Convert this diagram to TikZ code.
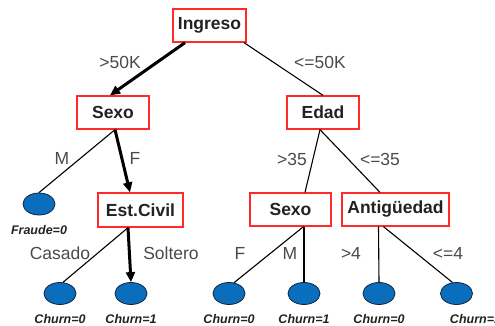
\documentclass[tikz,border=0pt]{standalone}
\usepackage{fontspec}
\setmainfont{Liberation Sans}
\usetikzlibrary{arrows.meta,shapes.geometric}
\definecolor{boxred}{HTML}{FF2A2A}
\definecolor{leafblue}{HTML}{0A6EBD}
\definecolor{leafedge}{HTML}{10243F}
\definecolor{txt}{HTML}{222222}
\definecolor{lbl}{HTML}{4A4A4A}
\tikzset{
  test/.style={draw=boxred, line width=1.3pt, fill=white, inner sep=0pt,
    text=txt, font=\fontsize{17.5}{20}\selectfont\bfseries},
  leaf/.style={ellipse, draw=leafedge, line width=0.8pt, fill=leafblue,
    minimum width=32pt, minimum height=22pt, inner sep=0pt},
  branch/.style={text=lbl, font=\fontsize{17.5}{20}\selectfont, inner sep=0pt},
  outcome/.style={text=txt, font=\fontsize{12.5}{14}\selectfont\bfseries\itshape, inner sep=0pt},
  edge/.style={draw=black, line width=1.1pt},
  chosen/.style={draw=black, line width=3pt, -{Triangle[length=10pt,width=9pt]}},
}
\begin{document}
\begin{tikzpicture}[x=1pt,y=-1pt]
\useasboundingbox (0,0) rectangle (495,326);
\clip (0,0) rectangle (495,326);

% decision nodes
\node[test, minimum width=73pt,  minimum height=33pt] (ingreso) at (209.5,25.5) {Ingreso};
\node[test, minimum width=72pt,  minimum height=33pt] (sexo)    at (113,112.5) {Sexo};
\node[test, minimum width=72pt,  minimum height=33pt] (edad)    at (323,112.5) {Edad};
\node[test, minimum width=85pt,  minimum height=34pt] (civil)   at (140.5,210) {Est.Civil};
\node[test, minimum width=81pt,  minimum height=33pt] (sexob)   at (290.5,209.5) {Sexo};
\node[test, minimum width=107pt, minimum height=33pt] (antig)   at (395.5,209.5) {Antigüedad};

% leaves
\node[leaf] (fraude) at (39,204) {};
\node[leaf] (la) at (60,293.5) {};
\node[leaf] (lb) at (131,293.5) {};
\node[leaf] (lc) at (229,293.5) {};
\node[leaf] (ld) at (304,293.5) {};
\node[leaf] (le) at (379,293.5) {};
\node[leaf] (lf) at (456.5,293.5) {};

% leaf outcomes
\node[outcome] (tfraude) at ([yshift=-15pt]fraude.south) {Fraude=0};
\node[outcome] (ta) at ([yshift=-14pt]la.south) {Churn=0};
\node[outcome] (tb) at ([yshift=-14pt]lb.south) {Churn=1};
\node[outcome] (tc) at ([yshift=-14pt]lc.south) {Churn=0};
\node[outcome] (td) at ([yshift=-14pt]ld.south) {Churn=1};
\node[outcome] (te) at ([yshift=-14pt]le.south) {Churn=0};
\node[outcome] (tf) at ([xshift=19pt,yshift=-14pt]lf.south) {Churn=1};

% branches
\draw[chosen] ([xshift=-24.5pt]ingreso.south) -- ([xshift=-3pt]sexo.north);
\draw[edge] ([xshift=34.5pt]ingreso.south) -- (edad.north);
\draw[edge] ([xshift=2pt]sexo.south) -- (fraude.north);
\draw[chosen] ([xshift=2pt]sexo.south) -- ([xshift=-10.5pt]civil.north);
\draw[edge] ([xshift=-12.5pt]civil.south) -- (la.75);
\draw[chosen] ([xshift=-12.5pt]civil.south) -- (lb.north);
\draw[edge] ([xshift=-3pt]edad.south) -- ([xshift=14.5pt]sexob.north);
\draw[edge] ([xshift=-3pt]edad.south) -- ([xshift=-15.5pt]antig.north);
\draw[edge] ([xshift=13pt]sexob.south) -- (lc.65);
\draw[edge] ([xshift=13.5pt]sexob.south) -- (ld.north);
\draw[edge] ([xshift=-17pt]antig.south) -- (le.north);
\draw[edge] ([xshift=-12pt]antig.south) -- (lf.110);

% branch labels
\node[branch] (b1) at (120,62) {>50K};
\node[branch] (b2) at (320,62) {<=50K};
\node[branch] (b3) at (62,158) {M};
\node[branch] (b4) at (135,158) {F};
\node[branch] (b5) at (292,159) {>35};
\node[branch] (b6) at (380,159) {<=35};
\node[branch] (b7) at (60,253) {Casado};
\node[branch] (b8) at (171,253) {Soltero};
\node[branch] (b9) at (240,253) {F};
\node[branch] (b10) at (290,253) {M};
\node[branch] (b11) at (351,253) {>4};
\node[branch] (b12) at (448,253) {<=4};
\end{tikzpicture}
\end{document}
